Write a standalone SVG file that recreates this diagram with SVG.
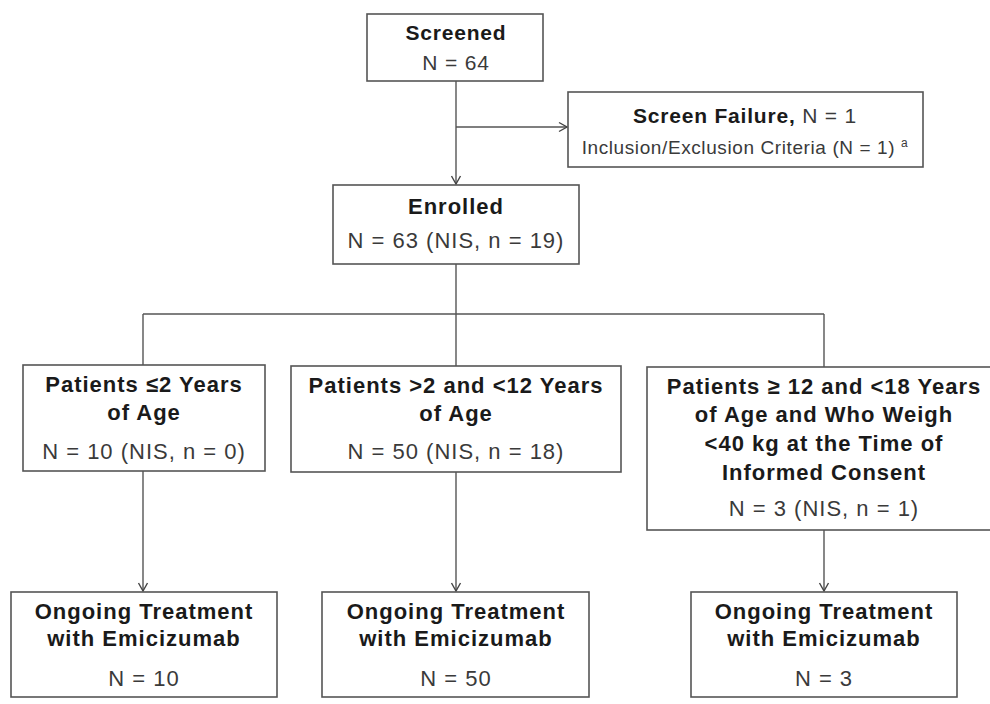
<svg xmlns="http://www.w3.org/2000/svg" width="990" height="704" viewBox="0 0 990 704">
<defs>
<marker id="arr" markerWidth="10" markerHeight="12" refX="9" refY="6" orient="auto" markerUnits="userSpaceOnUse">
<path d="M1,1.5 L9,6 L1,10.5" fill="none" stroke="#444" stroke-width="1.4"/>
</marker>
<style>
.box{fill:#fff;stroke:#555;stroke-width:1.6}
.ln{fill:none;stroke:#555;stroke-width:1.4}
text{font-family:"Liberation Sans",Arial,sans-serif;text-anchor:middle;font-size:22px;letter-spacing:1px}
.b{font-weight:bold;fill:#1a1a1a}
.r{fill:#3a3a3a}
.f{font-size:21px;letter-spacing:0.8px}
.s{font-size:19px;letter-spacing:0.6px}
</style>
</defs>
<rect width="990" height="704" fill="#fff"/>
<g id="connectors">
<line class="ln" x1="456" y1="81" x2="456" y2="184" marker-end="url(#arr)"/>
<line class="ln" x1="456" y1="127" x2="567" y2="127" marker-end="url(#arr)"/>
<line class="ln" x1="456" y1="264" x2="456" y2="314"/>
<line class="ln" x1="143" y1="314" x2="824" y2="314"/>
<line class="ln" x1="143" y1="314" x2="143" y2="365"/>
<line class="ln" x1="456" y1="314" x2="456" y2="366"/>
<line class="ln" x1="824" y1="314" x2="824" y2="367"/>
<line class="ln" x1="143" y1="471" x2="143" y2="591" marker-end="url(#arr)"/>
<line class="ln" x1="456" y1="472" x2="456" y2="591" marker-end="url(#arr)"/>
<line class="ln" x1="824" y1="530" x2="824" y2="591" marker-end="url(#arr)"/>
</g>
<g id="screened">
<rect class="box" x="367" y="14" width="176" height="67"/>
<text class="b f" x="456" y="40">Screened</text>
<text class="r f" x="456" y="70">N = 64</text>
</g>
<g id="screen-failure">
<rect class="box" x="568" y="92" width="355" height="75"/>
<text class="f" x="745" y="123"><tspan class="b">Screen Failure,</tspan><tspan class="r"> N = 1</tspan></text>
<text class="r s" x="745" y="154">Inclusion/Exclusion Criteria (N = 1) <tspan font-size="12" dy="-7">a</tspan></text>
</g>
<g id="enrolled">
<rect class="box" x="333" y="185" width="246" height="79"/>
<text class="b" x="456" y="214">Enrolled</text>
<text class="r" x="456" y="248">N = 63 (NIS, n = 19)</text>
</g>
<g id="age-le2">
<rect class="box" x="23" y="365" width="242" height="106"/>
<text class="b" x="144" y="392">Patients ≤2 Years</text>
<text class="b" x="144" y="420">of Age</text>
<text class="r" x="144" y="459">N = 10 (NIS, n = 0)</text>
</g>
<g id="age-2-12">
<rect class="box" x="291" y="366" width="330" height="106"/>
<text class="b" x="456" y="393">Patients &gt;2 and &lt;12 Years</text>
<text class="b" x="456" y="421">of Age</text>
<text class="r" x="456" y="459">N = 50 (NIS, n = 18)</text>
</g>
<g id="age-12-18">
<rect class="box" x="647" y="367" width="354" height="163"/>
<text class="b" x="824" y="394">Patients ≥ 12 and &lt;18 Years</text>
<text class="b" x="824" y="422">of Age and Who Weigh</text>
<text class="b" x="824" y="451">&lt;40 kg at the Time of</text>
<text class="b" x="824" y="480">Informed Consent</text>
<text class="r" x="824" y="516">N = 3 (NIS, n = 1)</text>
</g>
<g id="ongoing-1">
<rect class="box" x="11" y="592" width="266" height="105"/>
<text class="b" x="144" y="619">Ongoing Treatment</text>
<text class="b" x="144" y="646">with Emicizumab</text>
<text class="r" x="144" y="686">N = 10</text>
</g>
<g id="ongoing-2">
<rect class="box" x="322" y="592" width="267" height="105"/>
<text class="b" x="456" y="619">Ongoing Treatment</text>
<text class="b" x="456" y="646">with Emicizumab</text>
<text class="r" x="456" y="686">N = 50</text>
</g>
<g id="ongoing-3">
<rect class="box" x="691" y="592" width="266" height="105"/>
<text class="b" x="824" y="619">Ongoing Treatment</text>
<text class="b" x="824" y="646">with Emicizumab</text>
<text class="r" x="824" y="686">N = 3</text>
</g>
</svg>
